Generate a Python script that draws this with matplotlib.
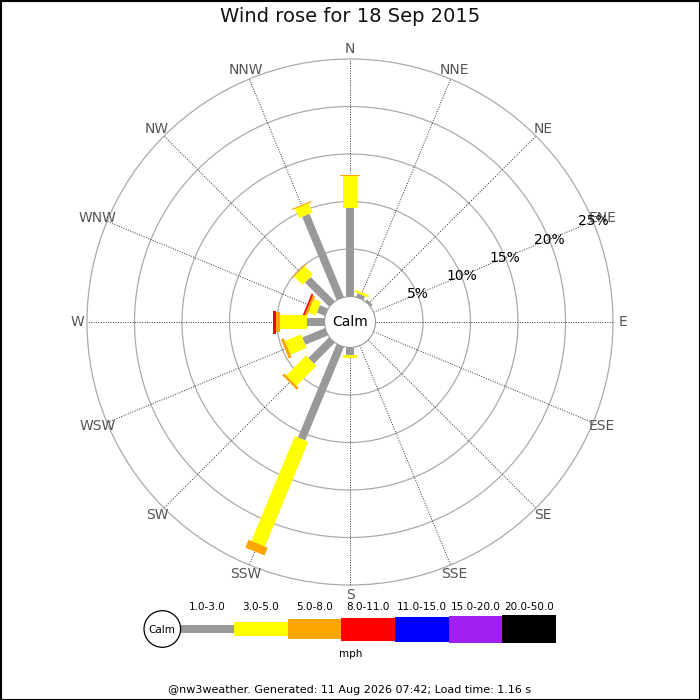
import matplotlib
matplotlib.use("Agg")
import matplotlib.pyplot as plt
import numpy as np
from matplotlib.patches import Polygon, Circle, Rectangle

# wind rose for 18 Sep 2015 - percent of time per direction and speed class
directions = ["N", "NNE", "NE", "ENE", "E", "ESE", "SE", "SSE",
              "S", "SSW", "SW", "WSW", "W", "WNW", "NW", "NNW"]
speed_classes = ["1.0-3.0", "3.0-5.0", "5.0-8.0", "8.0-11.0",
                 "11.0-15.0", "15.0-20.0", "20.0-50.0"]
class_colors = ["#999999", "#ffff00", "#ffa500", "#ff0000",
                "#0000ff", "#a020f0", "#000000"]
class_widths_px = [8, 14.7, 20.7, 23, 25, 27, 28.7]

pct_1_3 = [9.28, 0.42, 0.26, 0, 0, 0, 0, 0, 0.79, 10.64, 3.10, 2.58, 1.79, 0.93, 3.60, 9.47]
pct_3_5 = [3.44, 0.26, 0, 0, 0, 0, 0, 0, 0.35, 11.94, 2.95, 1.84, 2.89, 0.81, 1.25, 1.07]
pct_5_8 = [0.10, 0, 0, 0, 0, 0, 0, 0, 0, 0.89, 0.27, 0.32, 0.46, 0.26, 0.10, 0.12]
pct_8_11 = [0, 0, 0, 0, 0, 0, 0, 0, 0, 0, 0, 0, 0.25, 0.19, 0, 0]
pct_11_15 = [0] * 16
pct_15_20 = [0] * 16
pct_20_50 = [0] * 16

ring_pcts = [5, 10, 15, 20, 25]
title = "Wind rose for 18 Sep 2015"
footer = "@nw3weather. Generated: 11 Aug 2026 07:42; Load time: 1.16 s"

PX = 9.5           # pixels per percent
CALM_R = 25.5 / PX  # calm circle radius in percent units
HALF = 300 / PX


def main():
    fig = plt.figure(figsize=(7, 7), dpi=100)
    ax = fig.add_axes([50 / 700, (378 - 300) / 700, 600 / 700, 600 / 700])
    ax.set_xlim(-HALF, HALF)
    ax.set_ylim(-HALF, HALF)
    ax.set_aspect("equal")
    ax.axis("off")

    outer = CALM_R + ring_pcts[-1]
    # rings
    for p in ring_pcts:
        ax.add_patch(Circle((0, 0), CALM_R + p, fill=False, ec="#aaaaaa", lw=0.9, zorder=1))

    # spokes + direction labels
    angles = np.arange(16) * 22.5
    for ang, name in zip(angles, directions):
        t = np.radians(ang)
        u = np.array([np.sin(t), np.cos(t)])
        a, b = u * CALM_R, u * outer
        ax.plot([a[0], b[0]], [a[1], b[1]], color="#333333", lw=0.7,
                ls=(0, (1, 1.5)), zorder=2)
        lp = u * (273 / PX)
        ax.text(lp[0], lp[1], name, ha="center", va="center", fontsize=10,
                color="#555555", zorder=6)

    # ring labels along ENE
    t = np.radians(67.5)
    for p in ring_pcts:
        r = CALM_R + p
        ax.text(r * np.sin(t), r * np.cos(t), f"{p}%", ha="center", va="center",
                fontsize=10, color="black", zorder=6)

    # bars
    all_pcts = np.array([pct_1_3, pct_3_5, pct_5_8, pct_8_11,
                         pct_11_15, pct_15_20, pct_20_50])
    cum = np.cumsum(all_pcts, axis=0)
    for i, ang in enumerate(angles):
        t = np.radians(ang)
        u = np.array([np.sin(t), np.cos(t)])
        v = np.array([np.cos(t), -np.sin(t)])
        r_prev = CALM_R
        for k in range(len(speed_classes)):
            if all_pcts[k, i] <= 0:
                continue
            r_out = CALM_R + cum[k, i]
            hw = class_widths_px[k] / PX / 2
            pts = [u * r_prev + v * hw, u * r_out + v * hw,
                   u * r_out - v * hw, u * r_prev - v * hw]
            ax.add_patch(Polygon(pts, closed=True, fc=class_colors[k], ec="none", zorder=3 + k * 0.01))
            r_prev = r_out

    ax.add_patch(Circle((0, 0), CALM_R, fc="white", ec="#999999", lw=0.8, zorder=5))
    ax.text(0, 0, "Calm", ha="center", va="center", fontsize=10, zorder=6)

    # overlay in pixel coordinates: title, legend, footer, frame
    ov = fig.add_axes([0, 0, 1, 1])
    ov.set_xlim(0, 700)
    ov.set_ylim(700, 0)
    ov.axis("off")
    ov.add_patch(Rectangle((0.5, 0.5), 699, 699, fill=False, ec="black", lw=1.5))
    ov.text(350, 17, title, ha="center", va="center", fontsize=14, color="#111111")

    ov.add_patch(Circle((162.3, 629), 18.3, fc="white", ec="black", lw=0.9, zorder=4))
    ov.text(162.3, 630, "Calm", ha="center", va="center", fontsize=7.5, zorder=5)
    x0, seg = 180.5, 53.65
    for k, (lab, col, w) in enumerate(zip(speed_classes, class_colors, class_widths_px)):
        xs = x0 + k * seg
        ov.add_patch(Rectangle((xs, 629 - w / 2), seg, w, fc=col, ec="none", zorder=3))
        ov.text(xs + seg / 2, 607, lab, ha="center", va="center", fontsize=7.5)
    ov.text(351, 654, "mph", ha="center", va="center", fontsize=7.5)
    ov.text(350, 690, footer, ha="center", va="center", fontsize=8)

    fig.savefig("out.png", dpi=100)


if __name__ == "__main__":
    main()
